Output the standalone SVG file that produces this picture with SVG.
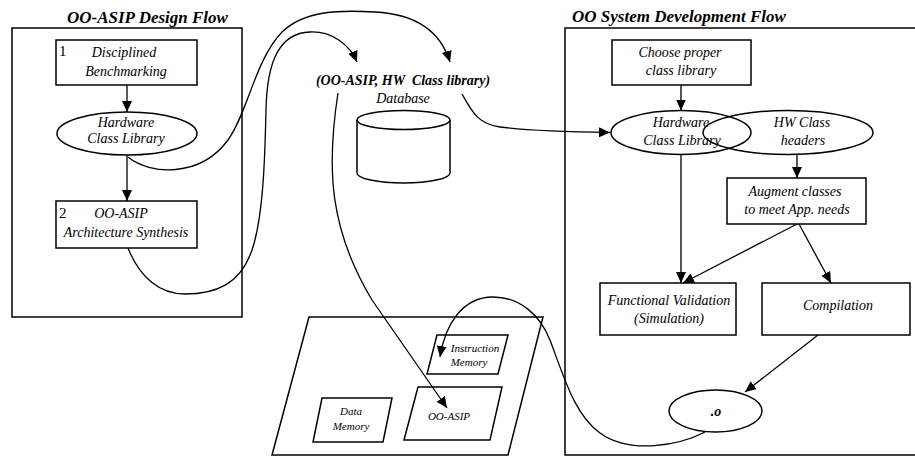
<svg xmlns="http://www.w3.org/2000/svg" width="915" height="457" viewBox="0 0 915 457">
<style>
  .shape { fill: #fff; stroke: #000; stroke-width: 1.5; }
  .frame { fill: none; stroke: #000; stroke-width: 1.5; }
  .conn { fill: none; stroke: #000; stroke-width: 1.3; }
  text { font-family: "Liberation Serif", "Times New Roman", serif; fill: #000; }
  .lbl { font-size: 14px; font-style: italic; text-anchor: middle; }
  .sm { font-size: 11px; font-style: italic; text-anchor: middle; }
  .title { font-size: 17px; font-style: italic; font-weight: bold; }
  .num { font-size: 15px; }
</style>
<defs>
  <marker id="ah" markerUnits="userSpaceOnUse" markerWidth="12" markerHeight="10" refX="11" refY="5" orient="auto">
    <path d="M0,0 L11,5 L0,10 Z" fill="#000"/>
  </marker>
</defs>

<g id="left-flow">
  <text class="title" x="67" y="23">OO-ASIP Design Flow</text>
  <rect class="frame" x="12" y="28" width="230" height="289"/>
</g>
<g id="right-flow">
  <text class="title" x="572" y="22">OO System Development Flow</text>
  <path class="frame" d="M925,28 L565,28 L565,455 L925,455"/>
</g>

<g id="benchmarking">
  <rect class="shape" x="56" y="40" width="141" height="45"/>
  <text class="num" x="59" y="56">1</text>
  <text class="lbl" x="124" y="57">Disciplined</text>
  <text class="lbl" x="126" y="76">Benchmarking</text>
</g>
<g id="hw-lib-left">
  <ellipse class="shape" cx="127" cy="133.5" rx="70" ry="21.5"/>
  <text class="lbl" x="126" y="127">Hardware</text>
  <text class="lbl" x="126" y="143">Class Library</text>
</g>
<g id="arch-synth">
  <rect class="shape" x="56" y="201" width="141" height="47"/>
  <text class="num" x="59" y="218">2</text>
  <text class="lbl" x="121" y="218">OO-ASIP</text>
  <text class="lbl" x="126" y="237">Architecture Synthesis</text>
</g>

<g id="database">
  <text class="lbl" x="403" y="85" font-weight="bold" style="white-space:pre">(OO-ASIP, HW  Class library)</text>
  <text class="lbl" x="403" y="103" font-size="15">Database</text>
  <path class="shape" d="M357,120 L357,173 A46.5,10 0 0 0 450,173 L450,120"/>
  <ellipse class="shape" cx="403.5" cy="120" rx="46.5" ry="9.5"/>
</g>

<g id="choose-lib">
  <rect class="shape" x="612" y="40" width="139" height="45"/>
  <text class="lbl" x="680" y="57">Choose proper</text>
  <text class="lbl" x="681" y="75">class library</text>
</g>
<g id="hw-lib-right">
  <ellipse class="shape" cx="681" cy="132.5" rx="70" ry="22"/>
  <text class="lbl" x="681" y="127">Hardware</text>
  <text class="lbl" x="682" y="145">Class Library</text>
</g>
<g id="hw-headers">
  <ellipse cx="788" cy="132.5" rx="85" ry="22" fill="none" stroke="#000" stroke-width="1.5"/>
  <text class="lbl" x="802" y="127">HW Class</text>
  <text class="lbl" x="803" y="145">headers</text>
</g>
<g id="augment">
  <rect class="shape" x="727" y="178" width="139" height="46"/>
  <text class="lbl" x="795" y="196">Augment classes</text>
  <text class="lbl" x="797" y="214">to meet App. needs</text>
</g>
<g id="func-valid">
  <rect class="shape" x="600" y="283" width="136" height="52"/>
  <text class="lbl" x="669" y="305">Functional Validation</text>
  <text class="lbl" x="669" y="323">(Simulation)</text>
</g>
<g id="compilation">
  <rect class="shape" x="762" y="283" width="148" height="52"/>
  <text class="lbl" x="838" y="310">Compilation</text>
</g>
<g id="obj">
  <ellipse class="shape" cx="715.5" cy="411" rx="46.5" ry="21"/>
  <text class="lbl" x="716" y="416" font-weight="bold" font-size="17">.o</text>
</g>

<g id="platform">
  <polygon class="shape" points="309,317 543,317 508,455 272,455"/>
</g>
<g id="instr-mem">
  <polygon class="shape" points="437,335 508,335 498,374 427,374"/>
  <text class="sm" x="475" y="352">Instruction</text>
  <text class="sm" x="469" y="366">Memory</text>
</g>
<g id="oo-asip">
  <polygon class="shape" points="418,387 502,387 490,440 404,440"/>
  <text class="sm" x="449" y="420" font-size="12">OO-ASIP</text>
</g>
<g id="data-mem">
  <polygon class="shape" points="322,398 392,398 383,442 313,442"/>
  <text class="sm" x="351" y="415">Data</text>
  <text class="sm" x="351" y="430">Memory</text>
</g>

<g id="connectors">
  <path class="conn" marker-end="url(#ah)" d="M127,85 L127,112"/>
  <path class="conn" marker-end="url(#ah)" d="M127,155 L127,201"/>
  <path class="conn" marker-end="url(#ah)" d="M128,157 C150,175 200,178 228,140 C248,112 255,60 282,32 C305,10 340,10 375,12 C415,14 440,30 450,62"/>
  <path class="conn" marker-end="url(#ah)" d="M128,248 C140,278 160,294 185,294 C215,294 240,285 252,250 C264,215 265,150 266,110 C267,60 280,33 310,32 C332,31 350,45 357,62"/>
  <path class="conn" marker-end="url(#ah)" d="M462,94 C472,112 478,124 500,127 C530,131 570,132 610,132.5"/>
  <path class="conn" marker-end="url(#ah)" d="M338,93 C326,170 330,230 372,300 L447,408"/>
  <path class="conn" marker-end="url(#ah)" d="M681,85 L681,110.5"/>
  <path class="conn" marker-end="url(#ah)" d="M797,154 L797,178"/>
  <path class="conn" marker-end="url(#ah)" d="M681,154.5 L681,283"/>
  <path class="conn" marker-end="url(#ah)" d="M797,224 L683,283"/>
  <path class="conn" marker-end="url(#ah)" d="M799,224 L831,283"/>
  <path class="conn" marker-end="url(#ah)" d="M818,335 L745,392"/>
  <path class="conn" marker-end="url(#ah)" d="M705,432 C680,445 630,455 600,433 C575,415 565,380 550,340 C540,315 520,297 493,297 C462,297 445,325 440,357"/>
</g>
</svg>
